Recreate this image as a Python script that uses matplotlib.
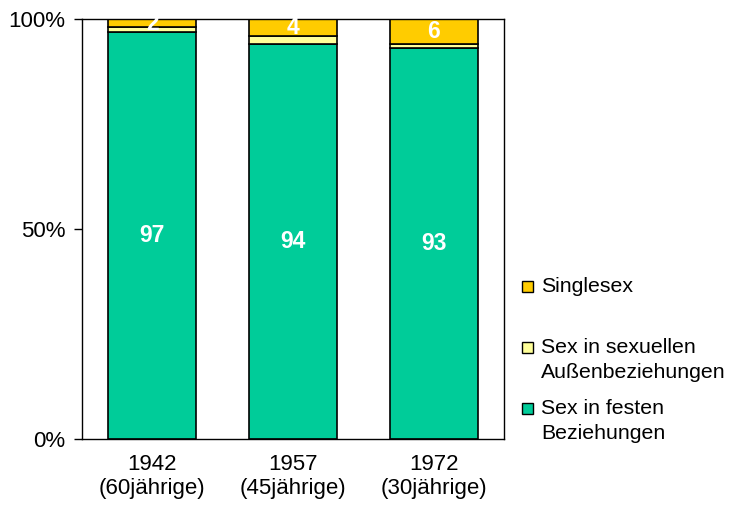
import matplotlib
matplotlib.use("Agg")
import matplotlib.pyplot as plt
from matplotlib.patches import Rectangle
import numpy as np

plt.rcParams['font.family'] = ['Liberation Sans', 'DejaVu Sans']

categories = ["1942\n(60jährige)", "1957\n(45jährige)", "1972\n(30jährige)"]
festen = [97, 94, 93]
aussen = [1, 2, 1]
single = [2, 4, 6]
series_labels = ["Sex in festen\nBeziehungen", "Sex in sexuellen\nAußenbeziehungen", "Singlesex"]
colors = ["#00CC99", "#FFFF99", "#FFCC00"]

fig = plt.figure(figsize=(7.31, 5.12), dpi=100)
ax = fig.add_axes([82/731, 1 - 439/512, (504-82)/731, (439-19)/512])

x = np.arange(len(categories))
w = 0.625
f = np.array(festen); a = np.array(aussen); s = np.array(single)
ax.bar(x, f, w, color=colors[0], edgecolor="black", linewidth=1.2)
ax.bar(x, a, w, bottom=f, color=colors[1], edgecolor="black", linewidth=1.2)
ax.bar(x, s, w, bottom=f + a, color=colors[2], edgecolor="black", linewidth=1.2)

for i in range(len(x)):
    ax.text(x[i], f[i] / 2, str(festen[i]), ha="center", va="center",
            color="white", fontweight="bold", fontsize=16.5)
    ax.text(x[i], f[i] + a[i] + s[i] / 2, str(single[i]), ha="center", va="center",
            color="white", fontweight="bold", fontsize=16.5)

ax.set_xlim(-0.5, len(x) - 0.5)
ax.set_ylim(0, 100)
ax.set_yticks([0, 50, 100])
ax.set_yticklabels(["0%", "50%", "100%"], fontsize=16)
ax.set_xticks(x)
ax.set_xticklabels(categories, fontsize=16, linespacing=1.2)
ax.tick_params(axis="x", length=0, pad=11)
ax.tick_params(axis="y", length=6, width=1, pad=6, direction="out")
for sp in ax.spines.values():
    sp.set_linewidth(1)
    sp.set_color("black")

# legend (manual layout)
entries = [(2, 286), (1, 347), (0, 408)]
for idx, ypix in entries:
    sq = 11
    fig.patches.append(Rectangle((522/731, 1 - (ypix + sq/2)/512), sq/731, sq/512,
                                 transform=fig.transFigure, facecolor=colors[idx],
                                 edgecolor="black", linewidth=1))
    fig.text(541/731, 1 - (ypix - 9)/512, series_labels[idx], ha="left", va="top",
             fontsize=15.3, linespacing=1.38)

fig.savefig("out.png", dpi=100)
